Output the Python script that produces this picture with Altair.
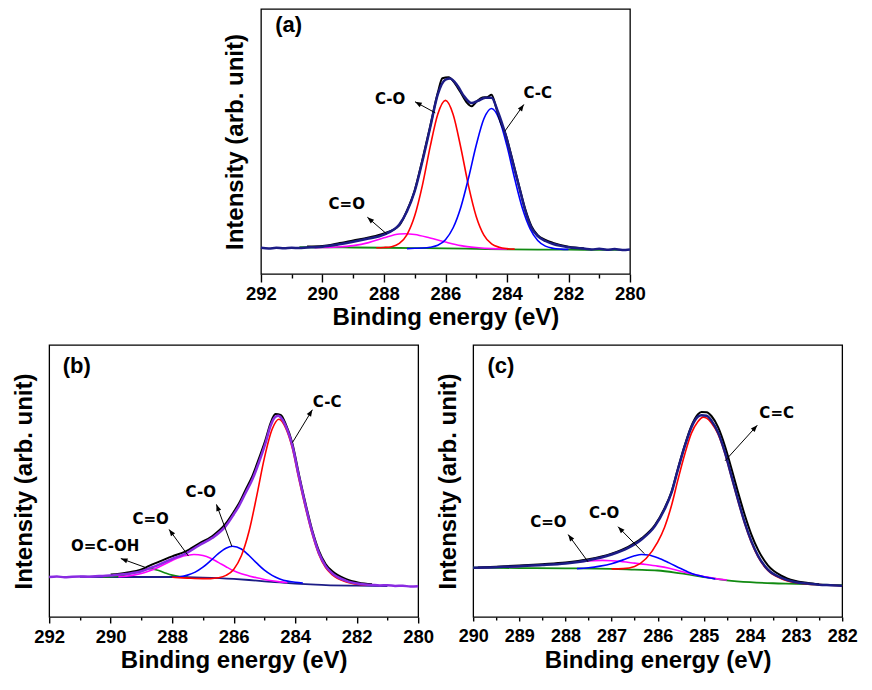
import altair as alt
import pandas as pd

# ================= panel (a) =================
A_ENV_E = [292, 291.75, 291.5, 291.25, 291, 290.75, 290.5, 290.25, 290, 289.5, 289, 288.5, 288,
           287.5, 287.25, 287, 286.75, 286.5, 286.25, 286, 285.85, 285.6, 285.4, 285.15, 284.95,
           284.7, 284.5, 284.3, 284.05, 283.85, 283.6, 283.4, 283.2, 283, 282.75, 282.5, 282.25,
           282, 281.75, 281.5, 281.25, 281, 280.75, 280.5, 280.25, 280]
A_ENV_I = [9.7, 9.4, 9.7, 9.5, 9.7, 9.6, 9.8, 9.9, 10.1, 10.9, 11.9, 13.1, 14.6,
           18.3, 23.2, 30.6, 41.7, 54.0, 66.4, 71.9, 72.3, 69.5, 65.8, 63.2, 64.0,
           65.2, 65.2, 60.2, 51.6, 43.0, 31.9, 23.2, 17.0, 14.0, 12.2, 11.1, 10.4,
           9.9, 9.6, 9.4, 9.1, 9.3, 9.0, 9.2, 8.9, 9.1]
A_RAW_E = [290.5, 290, 289.5, 289, 288.5, 288, 287.5, 287.25, 287, 286.75, 286.5, 286.25,
           286.1, 285.9, 285.7, 285.5, 285.3, 285.15, 285.0, 284.8, 284.65, 284.5, 284.35, 284.2,
           284.05, 283.85, 283.6, 283.4, 283.2, 283.0, 282.75, 282.5, 282.0, 281.5]
A_RAW_I = [10.2, 10.4, 11.3, 12.4, 13.5, 15.0, 18.0, 23.5, 31.0, 42.3, 54.5, 67.0,
           72.4, 72.8, 70.6, 67.0, 63.3, 62.0, 63.6, 65.3, 65.4, 66.3, 61.5, 56.0,
           51.9, 43.5, 32.4, 23.8, 17.6, 14.4, 12.6, 11.5, 10.1, 9.5]
A_CO_E = [288.25, 288, 287.75, 287.5, 287.25, 287, 286.75, 286.5, 286.25, 286, 285.75, 285.5,
          285.25, 285, 284.75, 284.5, 284.25, 284, 283.75]
A_CO_I = [9.7, 9.8, 10.1, 11.3, 14.6, 21.5, 32.8, 46.9, 59.1, 64.2, 59.0, 46.7,
          32.6, 21.3, 14.4, 11.1, 9.9, 9.4, 9.2]
A_CC_E = [287.25, 287, 286.75, 286.5, 286.25, 286, 285.75, 285.5, 285.25, 285, 284.75, 284.5,
          284.25, 284, 283.75, 283.5, 283.25, 283, 282.75, 282.5, 282.25, 282]
A_CC_I = [9.4, 9.5, 9.6, 9.9, 10.6, 12.7, 17.1, 24.7, 35.5, 47.6, 57.4, 61.2,
          57.2, 47.4, 35.3, 24.4, 16.8, 12.4, 10.3, 9.5, 9.2, 9.1]
A_CEO_E = [290.25, 290, 289.5, 289, 288.5, 288, 287.5, 287.3, 287, 286.5, 286, 285.5, 285, 284.5, 284]
A_CEO_I = [9.7, 9.8, 10.0, 10.5, 11.6, 13.4, 14.8, 14.9, 14.6, 13.3, 11.8, 10.5, 9.8, 9.4, 9.3]
A_BASE_E = [290.75, 290, 289, 288, 287, 286, 285, 284, 283, 282, 281, 280.1]
A_BASE_I = [9.9, 9.9, 9.8, 9.7, 9.6, 9.5, 9.3, 9.1, 9.0, 9.0, 8.95, 8.95]
A_TICKS = [292, 290, 288, 286, 284, 282, 280]
A_MINOR = [291, 289, 287, 285, 283, 281]
# label, text E, text I, arrow tail E, tail I, head E, head I, head angle
A_NOTES = [("C-O", 287.80, 64.6, 286.33, 59.6, 286.99, 63.7, 298.4),
           ("C-C", 283.00, 67.0, 284.07, 52.8, 283.45, 62.7, 35.5),
           ("C=O", 289.21, 25.9, 287.91, 14.8, 288.54, 21.0, 310.8)]

# ================= panel (b) =================
B_ENV_E = [292, 291.75, 291.5, 291.25, 291, 290.75, 290.5, 290.25, 290, 289.5, 289, 288.75, 288.5,
           288, 287.56, 287.13, 286.69, 286.26, 286, 285.83, 285.61, 285.39, 285.18, 284.96,
           284.8, 284.64, 284.55, 284.47, 284.31, 284.09, 283.88, 283.66, 283.44, 283.23,
           283.01, 282.79, 282.36, 281.93, 281.5, 281.25, 281, 280.75, 280.5, 280.25, 280]
B_ENV_I = [14.7, 14.9, 14.6, 14.8, 14.9, 14.8, 15.0, 15.1, 15.3, 15.8, 16.8, 17.9, 18.9,
           21.4, 23.3, 26.3, 29.1, 33.4, 37.7, 40.8, 45.7, 50.6, 56.8, 64.1,
           70.3, 73.6, 74.0, 73.4, 70.3, 62.9, 51.8, 40.8, 31.0, 23.6,
           18.7, 16.0, 13.4, 12.2, 11.8, 11.6, 11.7, 11.4, 11.5, 11.2, 11.3]
B_RAW_E = [290.0, 289.5, 289.0, 288.75, 288.5, 288.0, 287.56, 287.13, 286.69, 286.26, 286.0,
           285.83, 285.61, 285.39, 285.18, 284.96, 284.8, 284.64, 284.47, 284.31, 284.09,
           283.88, 283.66, 283.44, 283.23, 283.01, 282.79, 282.36, 281.93, 281.5]
B_RAW_I = [15.6, 16.3, 17.5, 18.8, 20.0, 22.3, 24.1, 27.0, 29.8, 34.3, 38.6,
           41.7, 46.8, 51.9, 58.2, 65.3, 71.3, 74.6, 74.3, 71.0, 63.8,
           52.6, 41.6, 31.7, 24.4, 19.5, 16.8, 14.0, 12.6, 12.0]
B_CC_E = [288.0, 287.5, 287.0, 286.75, 286.5, 286.25, 286.0, 285.75, 285.5, 285.25, 285.0, 284.75,
          284.53, 284.31, 284.09, 283.88, 283.66, 283.44, 283.23, 283.01, 282.79, 282.36, 281.93, 281.5]
B_CC_I = [14.6, 14.3, 14.1, 14.1, 14.4, 15.3, 17.5, 22.5, 31.5, 44.5, 58.5, 69.0,
          72.7, 69.5, 62.0, 50.8, 40.0, 30.3, 23.0, 18.2, 15.5, 13.0, 12.0, 11.7]
B_CO_E = [288.0, 287.75, 287.5, 287.25, 287.0, 286.75, 286.5, 286.25, 286.04, 285.75, 285.5,
          285.25, 285.0, 284.75, 284.5, 284.25, 284.0, 283.75]
B_CO_I = [14.6, 14.8, 15.4, 16.5, 18.3, 20.7, 23.3, 25.3, 26.0, 25.0, 22.6,
          19.8, 17.2, 15.3, 14.0, 13.2, 12.8, 12.5]
B_CEO_E = [289.75, 289.5, 289.25, 289.0, 288.75, 288.5, 288.25, 288.0, 287.75, 287.5, 287.29,
           287.0, 286.75, 286.5, 286.25, 286.0, 285.75, 285.5, 285.25, 285.0, 284.75, 284.5, 284.25]
B_CEO_I = [14.8, 15.0, 15.4, 16.0, 16.9, 18.0, 19.4, 20.8, 22.0, 22.7, 23.0,
           22.6, 21.6, 20.1, 18.5, 17.0, 15.9, 15.1, 14.4, 13.8, 13.3, 12.9, 12.6]
B_COOH_E = [290.25, 290.0, 289.75, 289.5, 289.25, 289.0, 288.75, 288.5, 288.25, 288.0, 287.75, 287.5]
B_COOH_I = [14.7, 14.8, 15.0, 15.5, 16.3, 17.2, 17.8, 17.3, 16.3, 15.4, 14.9, 14.7]
B_BASE_E = [291, 290, 289, 288, 287, 286, 285.5, 285, 284.5, 284, 283.5, 283, 282, 281]
B_BASE_I = [14.8, 14.7, 14.7, 14.7, 14.5, 14.0, 13.6, 13.1, 12.7, 12.3, 12.0, 11.7, 11.5, 11.4]
B_TICKS = [292, 290, 288, 286, 284, 282, 280]
B_MINOR = [291, 289, 287, 285, 283, 281]
B_NOTES = [("C-C", 282.96, 78.9, 284.09, 64.1, 283.44, 76.2, 31.5),
           ("C-O", 287.07, 45.9, 286.06, 26.0, 286.56, 41.4, 339.8),
           ("C=O", 288.70, 35.9, 287.47, 22.4, 288.10, 32.2, 324.1),
           ("O=C-OH", 290.18, 26.0, 288.84, 18.1, 289.67, 21.5, 290.0)]

# ================= panel (c) =================
C_ENV_E = [290, 289.75, 289.5, 289.25, 289, 288.5, 288, 287.5, 287, 286.64, 286.35, 286.06,
           285.85, 285.7, 285.56, 285.41, 285.27, 285.13, 285.05, 284.94, 284.83, 284.69,
           284.54, 284.4, 284.26, 284.11, 283.97, 283.82, 283.61, 283.32, 283.03, 282.74,
           282.5, 282.25, 282]
C_ENV_I = [18.1, 18.2, 18.3, 18.5, 18.7, 19.1, 19.7, 20.9, 23.0, 25.4, 28.5, 33.4,
           39.6, 45.7, 54.3, 62.9, 69.7, 73.6, 74.2, 74.0, 72.1, 67.8,
           60.4, 51.8, 43.2, 34.6, 27.9, 22.4, 17.4, 14.4, 12.9, 12.3,
           11.9, 11.7, 11.5]
C_RAW_E = [289.9, 289.5, 289, 288.5, 288, 287.5, 287, 286.64, 286.35, 286.06, 285.85, 285.7,
           285.56, 285.41, 285.27, 285.13, 285.05, 284.94, 284.83, 284.69, 284.54, 284.4,
           284.26, 284.11, 283.97, 283.82, 283.61, 283.32, 283.03, 282.74, 282.5]
C_RAW_I = [18.2, 18.5, 18.9, 19.4, 20.0, 21.2, 23.3, 25.8, 28.9, 33.8, 40.0, 46.0,
           54.6, 63.3, 70.2, 74.5, 75.4, 75.3, 73.8, 69.8, 62.8, 54.6,
           46.0, 37.4, 30.4, 24.6, 19.0, 15.2, 13.3, 12.5, 12.0]
C_CC_E = [287.0, 286.75, 286.5, 286.25, 286.0, 285.85, 285.7, 285.56, 285.41, 285.27, 285.13,
          285.01, 284.94, 284.83, 284.69, 284.54, 284.4, 284.26, 284.11, 283.97, 283.82,
          283.61, 283.32, 283.03, 282.74, 282.5, 282.0]
C_CC_I = [17.7, 17.8, 18.6, 21.5, 27.5, 33.0, 41.0, 50.5, 60.0, 67.5, 71.8,
          73.5, 73.1, 71.2, 67.2, 60.0, 51.4, 42.8, 34.2, 27.5, 22.0,
          17.1, 14.1, 12.7, 12.1, 11.9, 11.5]
C_CO_E = [287.75, 287.5, 287.25, 287.0, 286.75, 286.5, 286.35, 286.2, 286.0, 285.75, 285.5,
          285.25, 285.0, 284.75]
C_CO_I = [17.8, 18.1, 18.7, 19.6, 21.0, 22.5, 23.0, 22.8, 21.8, 19.9, 17.8, 15.9, 14.8, 14.0]
C_CEO_E = [289.9, 289.5, 289.0, 288.5, 288.0, 287.5, 287.2, 287.0, 286.75, 286.5, 286.25,
           286.0, 285.75, 285.5, 285.25, 285.0, 284.75, 284.5]
C_CEO_I = [18.1, 18.3, 18.6, 19.2, 19.9, 20.6, 20.8, 20.7, 20.3, 19.8, 19.3,
           18.7, 17.9, 16.8, 15.8, 14.9, 14.1, 13.6]
C_BASE_E = [290, 289, 288, 287, 286.5, 286, 285.5, 285, 284.5, 284, 283.5, 283, 282.5, 282]
C_BASE_I = [18.1, 18.0, 17.9, 17.7, 17.4, 17.1, 16.0, 14.7, 13.5, 12.8, 12.4, 12.2, 11.9, 11.7]
C_TICKS = [290, 289, 288, 287, 286, 285, 284, 283, 282]
C_MINOR = [289.5, 288.5, 287.5, 286.5, 285.5, 284.5, 283.5, 282.5]
C_NOTES = [("C=C", 283.42, 74.9, 284.54, 57.4, 283.84, 70.5, 42.5),
           ("C-O", 287.16, 38.3, 286.29, 23.3, 286.86, 33.2, 315.7),
           ("C=O", 288.37, 34.9, 287.51, 20.3, 287.94, 30.3, 323.8)]

# ================= styling =================
FONT = "Liberation Sans"
NOTE_FONT = "DejaVu Sans"
NAVY = "#1c1c86"
PURPLE = "#8a2be2"
RED = "#ff0000"
BLUE = "#0000ff"
MAGENTA = "#ff00ff"
GREEN = "#118a11"
BLACK = "#000000"
ARROW_HEAD = "M0,0L0.38,1L-0.38,1Z"
PANEL_W = 369


def make_panel(curves, notes, letter, letter_pos, xdom, majors, minors, height, ymax,
               major_len, minor_len, label_size):
    xs = alt.Scale(domain=xdom, reverse=True, nice=False, zero=False)
    ys = alt.Scale(domain=[0, ymax], nice=False, zero=False)
    y_axis = alt.Axis(title="Intensity (arb. unit)", labels=False, ticks=False, domain=False,
                      grid=False, titleFontSize=24, titleFont=FONT, titleFontWeight="bold",
                      titleColor="black", titlePadding=13)
    x_major = alt.Axis(values=majors, format="d", title="Binding energy (eV)", grid=False,
                       domain=False, tickSize=major_len, tickWidth=1.4, tickColor="black",
                       labelFontSize=label_size, labelFont=FONT, labelFontWeight="bold",
                       labelColor="black", labelPadding=10 - major_len, labelOverlap=False,
                       labelFlush=False,
                       titleFontSize=24, titleFont=FONT, titleFontWeight="bold",
                       titleColor="black", titlePadding=3, orient="bottom")
    x_minor = alt.Axis(values=minors, labels=False, title=None, grid=False, domain=False,
                       tickSize=minor_len, tickWidth=1.4, tickColor="black", orient="bottom")
    layers = []
    for i, (E, I, color, width) in enumerate(curves):
        df = pd.DataFrame({"E": E, "I": I})
        if i == 0:
            ax = x_major
        elif i == 1:
            ax = x_minor
        else:
            ax = None
        layers.append(
            alt.Chart(df).mark_line(color=color, strokeWidth=width, interpolate="monotone")
            .encode(x=alt.X("E:Q", scale=xs, axis=ax), y=alt.Y("I:Q", scale=ys, axis=y_axis))
        )
    nd = pd.DataFrame(notes, columns=["label", "lx", "ly", "te", "ti", "he", "hi", "ang"])
    layers.append(
        alt.Chart(nd).mark_rule(color="black", strokeWidth=1)
        .encode(x=alt.X("te:Q", scale=xs, axis=None), y=alt.Y("ti:Q", scale=ys, axis=y_axis),
                x2="he:Q", y2="hi:Q")
    )
    layers.append(
        alt.Chart(nd).mark_point(shape=ARROW_HEAD, filled=True, color="black", opacity=1,
                                 size=180, strokeWidth=0)
        .encode(x=alt.X("he:Q", scale=xs, axis=None), y=alt.Y("hi:Q", scale=ys, axis=y_axis),
                angle=alt.Angle("ang:Q", scale=None))
    )
    layers.append(
        alt.Chart(nd).mark_text(font=NOTE_FONT, fontWeight="bold", fontSize=15, color="black",
                                align="center", baseline="middle")
        .encode(x=alt.X("lx:Q", scale=xs, axis=None), y=alt.Y("ly:Q", scale=ys, axis=y_axis),
                text="label:N")
    )
    ld = pd.DataFrame({"t": [letter], "x": [letter_pos[0]], "y": [letter_pos[1]]})
    layers.append(
        alt.Chart(ld).mark_text(font=FONT, fontWeight="bold", fontSize=22, color="black",
                                align="center", baseline="middle")
        .encode(x=alt.X("x:Q", scale=xs, axis=None), y=alt.Y("y:Q", scale=ys, axis=y_axis),
                text="t:N")
    )
    return alt.layer(*layers).resolve_axis(x="independent").properties(width=PANEL_W, height=height)


panel_a = make_panel(
    [(A_BASE_E, A_BASE_I, GREEN, 1.8), (A_CEO_E, A_CEO_I, MAGENTA, 1.6),
     (A_CO_E, A_CO_I, RED, 1.6), (A_CC_E, A_CC_I, BLUE, 1.6),
     (A_RAW_E, A_RAW_I, BLACK, 2.0), (A_ENV_E, A_ENV_I, NAVY, 2.5)],
    A_NOTES, "(a)", (291.1, 92.1), [280, 292], A_TICKS, A_MINOR, 265, 98, 8, 4, 18.5)

panel_b = make_panel(
    [(B_BASE_E, B_BASE_I, NAVY, 1.8), (B_COOH_E, B_COOH_I, GREEN, 1.6),
     (B_CEO_E, B_CEO_I, MAGENTA, 1.6), (B_CO_E, B_CO_I, BLUE, 1.6),
     (B_CC_E, B_CC_I, RED, 1.6), (B_RAW_E, B_RAW_I, BLACK, 2.0),
     (B_ENV_E, B_ENV_I, PURPLE, 2.5)],
    B_NOTES, "(b)", (291.1, 92.1), [280, 292], B_TICKS, B_MINOR, 272, 100, 6, 3, 18.5)

panel_c = make_panel(
    [(C_BASE_E, C_BASE_I, GREEN, 1.8), (C_CEO_E, C_CEO_I, MAGENTA, 1.6),
     (C_CO_E, C_CO_I, BLUE, 1.6), (C_CC_E, C_CC_I, RED, 1.6),
     (C_RAW_E, C_RAW_I, BLACK, 2.0), (C_ENV_E, C_ENV_I, NAVY, 2.5)],
    C_NOTES, "(c)", (289.4, 92.1), [282, 290], C_TICKS, C_MINOR, 272, 100, 4, 3, 18)

chart = alt.vconcat(
    panel_a,
    alt.hconcat(panel_b, panel_c, spacing=0),
    spacing=13,
    center=True,
).properties(
    padding={"left": 3, "top": 0, "right": 0, "bottom": 0}
).configure_view(stroke="black", strokeWidth=1.3)

chart.save("out.html", embed_options={"renderer": "svg", "actions": False})
